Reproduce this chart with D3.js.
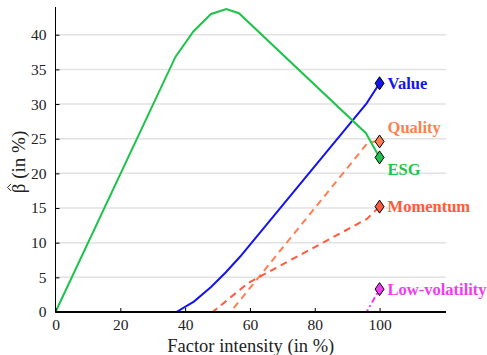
<!DOCTYPE html>
<html>
<head>
<meta charset="utf-8">
<script src="https://cdn.jsdelivr.net/npm/d3@7"></script>
<style>
  body { margin: 0; background: #fff; }
  svg text { font-family: 'Liberation Serif', 'DejaVu Serif', serif !important; }
</style>
</head>
<body>
<div id="chart"></div>
<script>
const seriesNames = ["Value", "Quality", "ESG", "Momentum", "Low-volatility"]
const seriesColors = ["#1414f0", "#ff7f50", "#1ec34b", "#ff5a3c", "#f03cf0"]

const valuePts = [[0, 0], [37.3, 0], [42.7, 1.5], [48, 3.6], [52.5, 5.7], [57, 8], [96, 30.1], [100, 33]]
const qualityPts = [[0, 0], [54, 0], [96.5, 24.5], [100, 24.6]]
const esgPts = [[0, 0], [37, 36.8], [42.6, 40.5], [48, 43], [52.7, 43.7], [56.6, 43.1], [95.8, 25.8], [100, 22.3]]
const momentumPts = [[0, 0], [48.5, 0], [59.5, 4.2], [96, 13.4], [100, 15.2]]
const lowVolPts = [[0, 0], [96, 0], [100, 3.3]]

const xTicks = [0, 20, 40, 60, 80, 100]
const yTicks = [0, 5, 10, 15, 20, 25, 30, 35, 40]

const allSeries = [valuePts, qualityPts, esgPts, momentumPts, lowVolPts]
const dashes = [null, "7,5", null, "7,5", "6,3,2,3"]
// label offsets relative to the end marker
const labelDy = [0, -14, 12, 0, 0]

const width = 487, height = 355
const margin = {top: 7, right: 41, bottom: 43, left: 55.5}

const svg = d3.select("#chart").append("svg")
  .attr("width", width)
  .attr("height", height)

const x = d3.scaleLinear().domain([0, 120.5]).range([margin.left, width - margin.right])
const y = d3.scaleLinear().domain([0, 44]).range([height - margin.bottom, margin.top])

// grid
svg.append("g")
  .selectAll("line")
  .data(yTicks.filter(d => d > 0))
  .enter()
  .append("line")
  .attr("x1", x(0))
  .attr("x2", x(120.5))
  .attr("y1", d => y(d))
  .attr("y2", d => y(d))
  .attr("stroke", "#e2e2e2")
  .attr("stroke-width", 1.5)

const line = d3.line().x(d => x(d[0])).y(d => y(d[1]))

svg.append("g")
  .selectAll("path")
  .data(allSeries)
  .enter()
  .append("path")
  .attr("d", line)
  .attr("fill", "none")
  .attr("stroke", (d, i) => seriesColors[i])
  .attr("stroke-width", 2)
  .attr("stroke-dasharray", (d, i) => dashes[i])

// axes
const xAxis = svg.append("g")
  .attr("transform", `translate(0,${y(0)})`)
  .call(d3.axisBottom(x).tickValues(xTicks).tickSize(-4).tickPadding(7))
xAxis.select(".domain").attr("stroke", "#000").attr("stroke-width", 2)
  .attr("d", `M${x(0)},0H${x(120.5)}`)

const yAxis = svg.append("g")
  .attr("transform", `translate(${x(0)},0)`)
  .call(d3.axisLeft(y).tickValues(yTicks).tickSize(-4).tickPadding(9))
yAxis.select(".domain").attr("stroke", "#000").attr("stroke-width", 1)
  .attr("d", `M0,${y(44)}V${y(0)}`)

svg.selectAll(".tick text")
  .attr("font-size", 15.5)
  .attr("fill", "#222")

// end markers
const ends = allSeries.map(s => s[s.length - 1])
svg.append("g")
  .selectAll("path")
  .data(ends)
  .enter()
  .append("path")
  .attr("d", "M0,-6.5L4.5,0L0,6.5L-4.5,0Z")
  .attr("transform", d => `translate(${x(d[0])},${y(d[1])})`)
  .attr("fill", (d, i) => seriesColors[i])
  .attr("stroke", "#000")
  .attr("stroke-width", 1)

svg.append("g")
  .selectAll("text")
  .data(ends)
  .enter()
  .append("text")
  .attr("x", d => x(d[0]) + 8)
  .attr("y", (d, i) => y(d[1]) + labelDy[i])
  .attr("dy", "0.35em")
  .attr("font-size", 16.5)
  .attr("font-weight", "bold")
  .attr("fill", (d, i) => seriesColors[i])
  .text((d, i) => seriesNames[i])

svg.append("text")
  .attr("x", (x(0) + x(120.5)) / 2)
  .attr("y", 352)
  .attr("text-anchor", "middle")
  .attr("font-size", 18.5)
  .attr("fill", "#222")
  .text("Factor intensity (in %)")

// y label: beta with a hat drawn above it
const yLab = svg.append("g").attr("transform", "translate(25,162) rotate(-90)")
const yText = yLab.append("text")
  .attr("font-size", 19)
  .attr("fill", "#222")
  .text("β (in %)")
const w = yText.node().getComputedTextLength()
const bw = yText.node().getSubStringLength(0, 1)
yText.attr("x", -w / 2)
const hx = -w / 2 + bw / 2 + 1
yLab.append("path")
  .attr("d", `M${hx - 3.5},-14L${hx},-17.5L${hx + 3.5},-14`)
  .attr("fill", "none")
  .attr("stroke", "#222")
  .attr("stroke-width", 1)
</script>
</body>
</html>
